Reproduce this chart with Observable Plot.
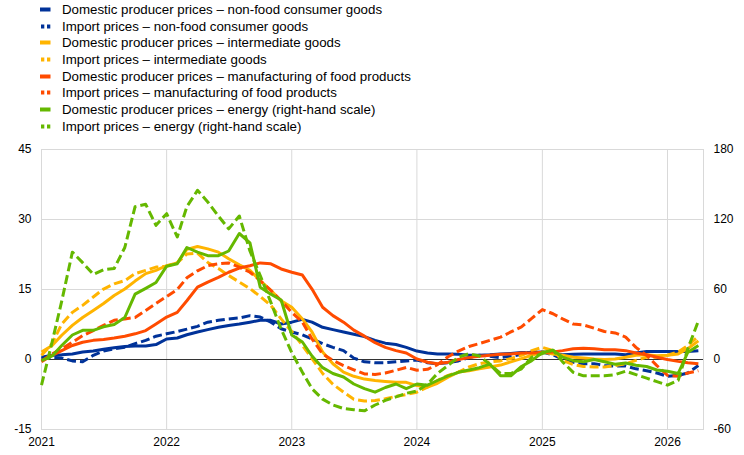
<!DOCTYPE html>
<html>
<head>
<meta charset="utf-8">
<script src="https://cdn.jsdelivr.net/npm/d3@7"></script>
<script src="https://cdn.jsdelivr.net/npm/@observablehq/plot@0.6"></script>
<style>
  body { margin: 0; background: #fff; font-family: Arial, "Liberation Sans", sans-serif; }
  #wrap { position: relative; width: 744px; height: 455px; overflow: hidden; }
  #legend { position: absolute; left: 0; top: 1px; width: 744px; height: 139px; }
  .row { height: 16.7px; display: flex; align-items: center; font-size: 13.3px; color: #000; white-space: nowrap; }
  .row svg { margin-left: 40px; margin-right: 11px; flex: none; }
  #chart { position: absolute; left: 0; top: 140px; }
</style>
</head>
<body>
<div id="wrap">
  <div id="legend"></div>
  <div id="chart"></div>
</div>
<script>
// Monthly observations, January 2021 to April 2026 (annual % changes)
const nonFoodDom = [
  0.5, 0.9, 1.0, 1.2, 1.6, 1.8, 2.2, 2.5, 2.8, 2.9, 2.9, 3.2,
  4.4, 4.6, 5.3, 5.9, 6.4, 6.9, 7.3, 7.6, 8.0, 8.4, 8.4, 7.6,
  8.0, 8.6, 8.0, 6.9, 6.4, 5.9, 5.4, 4.9, 4.1, 3.5, 3.2, 2.6,
  1.8, 1.4, 1.2, 1.2, 1.1, 0.9, 0.9, 1.0, 1.2, 1.3, 1.5, 1.5,
  1.6, 1.3, 1.0, 1.1, 1.2, 1.2, 1.2, 1.2, 1.0, 1.4, 1.7, 1.7,
  1.7, 1.7, 1.7, 1.9
];
const nonFoodImp = [
  0.2, 0.5, 0.3, -0.3, -0.5, 0.9, 1.8, 2.3, 2.6, 3.4, 4.1, 5.0,
  5.5, 6.0, 6.5, 7.1, 8.0, 8.4, 8.7, 8.9, 9.4, 9.1, 8.0, 6.6,
  5.9, 5.3, 4.4, 3.4, 2.6, 1.9, 0.3, -0.5, -0.7, -0.7, -0.5, -0.3,
  -0.1, -0.7, -0.9, -0.7, -0.3, 0.4, 0.9, 0.7, 0.4, 0.7, 1.1, 1.6,
  1.6, 1.0, 0.1, -0.6, -0.9, -0.9, -1.3, -1.4, -1.4, -2.0, -2.4, -2.9,
  -3.6, -3.4, -2.9, -1.3
];
const interDom = [
  1.6, 3.0, 5.2, 7.3, 9.0, 10.5, 12.0, 13.7, 15.1, 16.8, 18.4, 19.1,
  20.1, 20.7, 23.6, 24.2, 23.7, 23.0, 21.6, 20.3, 19.1, 16.9, 14.8, 12.6,
  11.2, 8.7, 5.9, 1.6, -0.9, -2.7, -3.6, -4.2, -4.5, -4.7, -4.9, -4.9,
  -5.6, -5.9, -5.1, -3.8, -2.7, -2.4, -2.0, -1.6, -1.2, -0.5, 0.2, 0.9,
  1.6, 1.2, 0.9, 0.5, 0.3, 0.1, 0.0, 0.1, 0.5, 0.9, 1.0, 0.8,
  0.9, 1.2, 2.3, 4.0
];
const interImp = [
  0.9, 3.4, 7.6, 10.1, 11.6, 13.4, 15.1, 16.2, 16.9, 18.4, 19.1, 19.8,
  20.0, 20.7, 22.6, 22.8, 20.8, 19.5, 18.0, 16.6, 15.2, 13.5, 11.6, 8.7,
  6.0, 3.0, 0.2, -3.0, -5.3, -7.0, -8.5, -8.9, -8.8, -8.4, -7.9, -7.5,
  -7.0, -5.9, -4.5, -3.4, -2.7, -1.6, -0.9, -0.5, -0.3, 0.2, 0.9, 1.9,
  2.6, 1.9, -0.2, -1.1, -1.5, -1.6, -1.6, -1.3, -0.9, -0.2, 0.5, 0.5,
  0.9, 1.6, 3.0, 5.0
];
const foodDom = [
  -0.5, 0.9, 1.9, 3.0, 3.7, 4.1, 4.3, 4.6, 5.0, 5.5, 6.2, 7.6,
  9.1, 10.1, 12.6, 15.5, 16.6, 17.6, 18.7, 19.6, 20.1, 20.7, 20.5, 19.4,
  18.7, 18.1, 15.1, 11.2, 9.4, 8.0, 6.3, 5.0, 3.6, 2.6, 1.9, 1.4,
  0.1, -0.6, -0.9, -0.6, 0.0, 0.4, 0.7, 0.9, 1.1, 1.2, 1.4, 1.4,
  1.5, 1.6, 1.9, 2.3, 2.4, 2.3, 2.1, 2.1, 1.9, 1.4, 1.0, 0.5,
  0.0, -0.4, -0.7, -0.9
];
const foodImp = [
  -0.3, 1.2, 2.3, 3.7, 5.1, 6.2, 7.3, 8.4, 8.7, 9.0, 10.5, 12.0,
  13.5, 15.0, 17.5, 19.0, 20.1, 20.5, 20.7, 19.8, 18.7, 16.9, 14.8, 12.6,
  10.1, 8.0, 4.4, 1.2, -0.2, -1.3, -2.2, -3.1, -3.2, -2.9, -2.3, -1.7,
  -2.3, -2.1, -1.1, 0.6, 1.8, 2.8, 3.4, 4.1, 4.8, 5.9, 7.0, 8.8,
  10.7, 9.8, 8.7, 7.6, 7.4, 6.7, 6.0, 5.7, 4.8, 2.6, 0.9, -1.3,
  -3.4, -3.6, -2.9, -2.4
];
// right-hand scale
const energyDom = [
  -1, 3, 12, 21, 25, 25, 28, 30, 36, 56, 61, 66,
  80, 82, 96, 92, 89, 89, 93, 108, 100, 62, 56, 51,
  21, 15, 3, -7, -12, -15, -21, -25, -28, -24, -21, -25,
  -21, -22, -18, -14, -11, -9, -7, -4, -14, -14, -6, -1,
  6, 8, 2, -1, -2, 0, -2, -4, -3, -5, -6, -9,
  -10, -12, 6, 12
];
const energyImp = [
  -22, 15, 50, 92, 83, 73, 77, 78, 96, 131, 133, 115,
  125, 105, 131, 145, 135, 123, 112, 123, 93, 72, 49, 26,
  6, -11, -25, -34, -39, -42, -43, -44, -39, -35, -32, -29,
  -27, -21, -12, -5, 2, 5, 3, -4, -12, -12, -8, 2,
  5, 8, -2, -11, -14, -14, -14, -13, -10, -13, -16, -19,
  -22, -18, 9, 33
];

const leftTicks = [-15, 0, 15, 30, 45];
const rightTicks = [-60, 0, 60, 120, 180];
const months = d3.utcMonth.range(new Date(Date.UTC(2021, 0, 1)), new Date(Date.UTC(2026, 4, 1)));

const blue = "#003299", yellow = "#FFB400", orange = "#FF4B00", green = "#65B800";
const series = [
  {name: "Domestic producer prices – non-food consumer goods", values: nonFoodDom, color: blue, dashed: false, right: false},
  {name: "Import prices – non-food consumer goods", values: nonFoodImp, color: blue, dashed: true, right: false},
  {name: "Domestic producer prices – intermediate goods", values: interDom, color: yellow, dashed: false, right: false},
  {name: "Import prices – intermediate goods", values: interImp, color: yellow, dashed: true, right: false},
  {name: "Domestic producer prices – manufacturing of food products", values: foodDom, color: orange, dashed: false, right: false},
  {name: "Import prices – manufacturing of food products", values: foodImp, color: orange, dashed: true, right: false},
  {name: "Domestic producer prices – energy (right-hand scale)", values: energyDom, color: green, dashed: false, right: true},
  {name: "Import prices – energy (right-hand scale)", values: energyImp, color: green, dashed: true, right: true}
];

// Legend
const legend = document.getElementById("legend");
for (const s of series) {
  const row = document.createElement("div");
  row.className = "row";
  const sw = s.dashed
    ? `<svg width="11" height="5"><rect x="1" y="0.5" width="3.3" height="4" fill="${s.color}"/><rect x="7" y="0.5" width="3.3" height="4" fill="${s.color}"/></svg>`
    : `<svg width="11" height="5"><rect x="0" y="0.5" width="10.5" height="4" fill="${s.color}"/></svg>`;
  row.innerHTML = sw + `<span>${s.name}</span>`;
  legend.appendChild(row);
}

const ratio = 4; // right-hand scale / left-hand scale
const lines = series.map(s => Plot.line(s.values, {
  x: (d, i) => months[i],
  y: s.right ? (d => d / ratio) : (d => d),
  stroke: s.color,
  strokeWidth: 3,
  strokeDasharray: s.dashed ? "9,4" : null,
  strokeLinecap: "butt",
  strokeLinejoin: "round"
}));

const years = d3.utcYear.range(new Date(Date.UTC(2021, 0, 1)), new Date(Date.UTC(2027, 0, 1)));

const chart = Plot.plot({
  width: 744,
  height: 315,
  marginLeft: 41,
  marginRight: 41,
  marginTop: 9,
  marginBottom: 26,
  style: {fontFamily: "Arial, 'Liberation Sans', sans-serif", fontSize: "12px", color: "#000", background: "#fff", overflow: "visible"},
  x: {type: "utc", domain: [new Date(Date.UTC(2021, 0, 1)), new Date(Date.UTC(2026, 3, 16))]},
  y: {domain: [-15, 45]},
  marks: [
    Plot.gridX(years, {stroke: "#d9d9d9", strokeOpacity: 1, strokeWidth: 1}),
    Plot.gridY([15, 30], {stroke: "#d9d9d9", strokeOpacity: 1, strokeWidth: 1}),
    Plot.frame({stroke: "#d9d9d9", strokeWidth: 1}),
    Plot.ruleY([0], {stroke: "#333", strokeWidth: 1}),
    ...lines,
    Plot.axisX(years, {tickFormat: "%Y", tickSize: 0, tickPadding: 8, label: null, fontSize: 12}),
    Plot.axisY(leftTicks, {anchor: "left", tickSize: 0, tickPadding: 10, label: null, tickFormat: d => d, fontSize: 12}),
    Plot.axisY(rightTicks, {anchor: "right", y: d => d / ratio, tickSize: 0, tickPadding: 10, label: null, tickFormat: d => d, fontSize: 12})
  ]
});
document.getElementById("chart").appendChild(chart);
</script>
</body>
</html>
